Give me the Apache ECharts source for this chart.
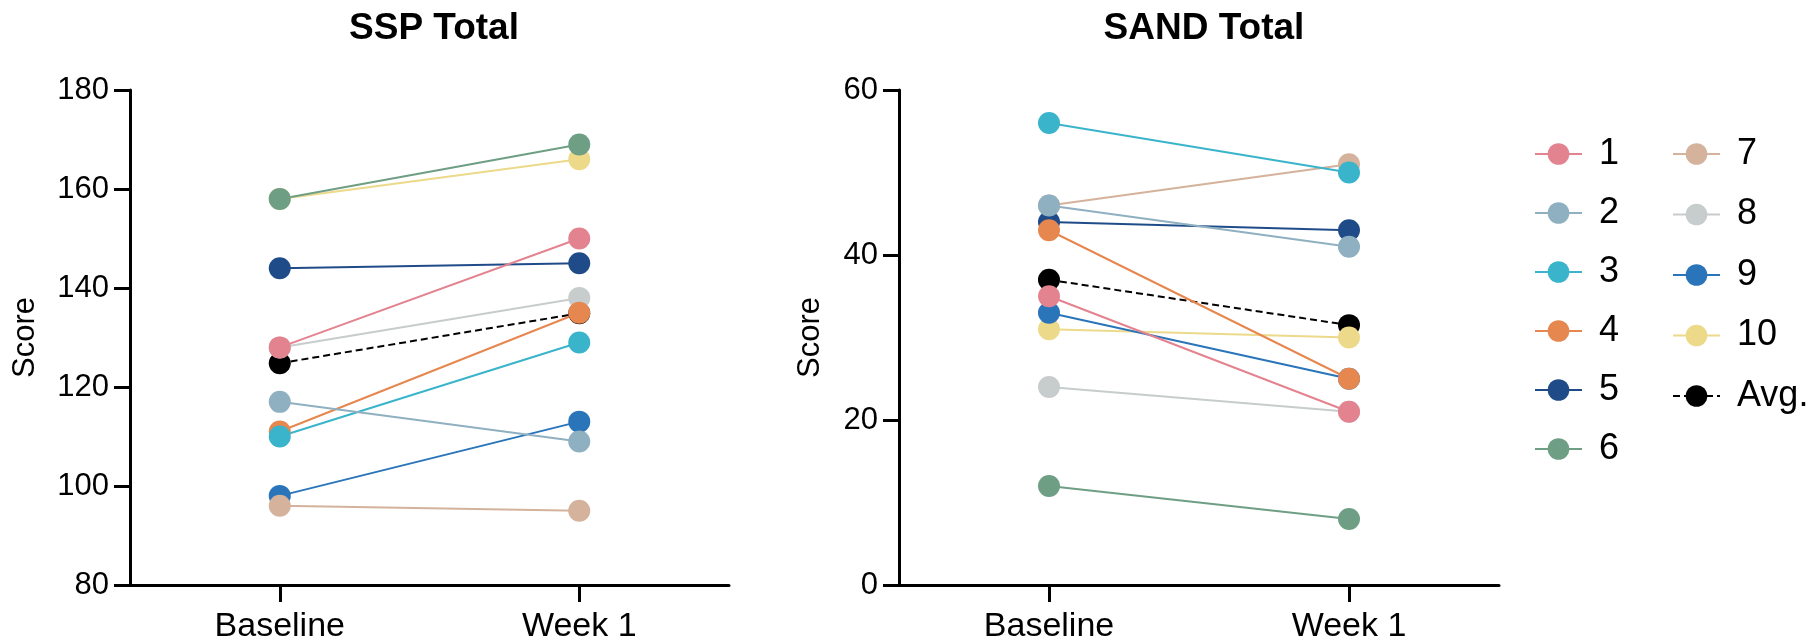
<!DOCTYPE html>
<html>
<head>
<meta charset="utf-8">
<script src="https://cdn.jsdelivr.net/npm/echarts@6/dist/echarts.min.js"></script>
<style>
  html, body { margin: 0; padding: 0; background: #fff; }
  #chart { width: 1816px; height: 644px; }
</style>
</head>
<body>
<div id="chart"></div>
<script>
// 데이터
const categories = ['Baseline', 'Week 1'];
const subjects = ['1', '2', '3', '4', '5', '6', '7', '8', '9', '10'];
const sspBaseline = [128, 117, 110, 111, 144, 158, 96, 128, 98, 158];
const sspWeek1    = [150, 109, 129, 135, 145, 169, 95, 138, 113, 166];
const sandBaseline = [35, 46, 56, 43, 44, 12, 46, 24, 33, 31];
const sandWeek1    = [21, 41, 50, 25, 43, 8, 51, 21, 25, 30];
const sspAvg  = [124.8, 134.9];
const sandAvg = [37.0, 31.5];
const avgName = 'Avg.';

const colors = ['#E3838F', '#8FB0C0', '#3AB4CB', '#E6874F', '#1F4C88',
                '#6E9F84', '#D4B29C', '#C7CDCC', '#2A74BA', '#ECD98A'];

const FONT = '"Liberation Sans", Arial, sans-serif';

const chartDom = document.getElementById('chart');
const myChart = echarts.init(chartDom);

const axisLine = { show: true, lineStyle: { color: '#000', width: 3 } };

const xAxisFor = (idx) => ({
    type: 'category',
    gridIndex: idx,
    data: categories,
    boundaryGap: true,
    axisLine: axisLine,
    axisTick: { show: true, alignWithLabel: true, length: 17, lineStyle: { color: '#000', width: 3 } },
    axisLabel: { color: '#000', fontSize: 34, fontFamily: FONT, margin: 25 },
    splitLine: { show: false }
});

const yAxisFor = (idx, min, max, gap) => ({
    type: 'value',
    gridIndex: idx,
    min: min, max: max, interval: 20,
    name: 'Score',
    nameLocation: 'middle',
    nameRotate: 90,
    nameGap: gap,
    nameTextStyle: { color: '#000', fontSize: 31, fontFamily: FONT },
    axisLine: axisLine,
    axisTick: { show: true, length: 16, lineStyle: { color: '#000', width: 3 } },
    axisLabel: { color: '#000', fontSize: 31, fontFamily: FONT, margin: 21 },
    splitLine: { show: false }
});

// 평균선 먼저, 그 다음 10 -> 1 순서로 (1번이 위에 그려지도록)
const buildSeries = (idx, base, week, avg) => {
    const list = [{
        name: avgName,
        type: 'line',
        xAxisIndex: idx, yAxisIndex: idx,
        data: avg,
        symbol: 'circle', symbolSize: 22,
        itemStyle: { color: '#000' },
        lineStyle: { color: '#000', width: 2, type: [7, 4] },
        emphasis: { disabled: true }
    }];
    for (let i = subjects.length - 1; i >= 0; i--) {
        list.push({
            name: subjects[i],
            type: 'line',
            xAxisIndex: idx, yAxisIndex: idx,
            data: [base[i], week[i]],
            symbol: 'circle', symbolSize: 22,
            itemStyle: { color: colors[i] },
            lineStyle: { color: colors[i], width: 2 },
            emphasis: { disabled: true }
        });
    }
    return list;
};

const legendFor = (left, data, gap) => ({
    orient: 'vertical',
    left: left, top: 131,
    data: data,
    itemWidth: 47, itemHeight: 27, itemGap: gap,
    textStyle: { color: '#000', fontSize: 36, fontFamily: FONT, padding: [0, 0, 0, 12] },
    selectedMode: false
});

myChart.setOption({
    animation: false,
    backgroundColor: '#fff',
    title: [
        { text: 'SSP Total', left: 429, top: 5, textAlign: 'center',
          textStyle: { fontSize: 37, fontWeight: 'bold', color: '#000', fontFamily: FONT } },
        { text: 'SAND Total', left: 1199, top: 5, textAlign: 'center',
          textStyle: { fontSize: 37, fontWeight: 'bold', color: '#000', fontFamily: FONT } }
    ],
    legend: [
        legendFor(1529, subjects.slice(0, 6), 23),
        legendFor(1667, subjects.slice(6).concat([avgName]), 24.5)
    ],
    grid: [
        { left: 130, top: 90, width: 599, height: 502 },
        { left: 899, top: 90, width: 600, height: 502 }
    ],
    xAxis: [xAxisFor(0), xAxisFor(1)],
    yAxis: [yAxisFor(0, 80, 180, 89), yAxisFor(1, 0, 60, 73)],
    series: buildSeries(0, sspBaseline, sspWeek1, sspAvg)
        .concat(buildSeries(1, sandBaseline, sandWeek1, sandAvg))
});

new ResizeObserver(() => myChart.resize()).observe(chartDom);
</script>
</body>
</html>
